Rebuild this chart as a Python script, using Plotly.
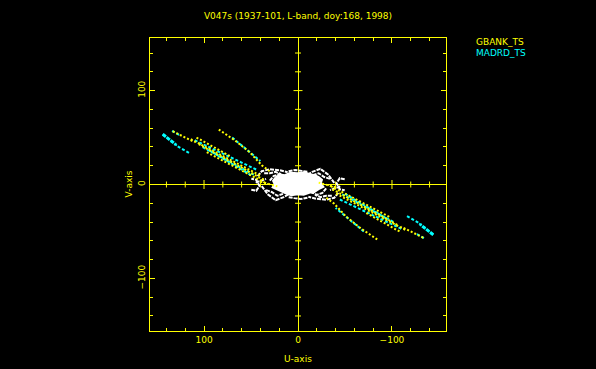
import plotly.graph_objects as go

TITLE = "V047s (1937-101, L-band, doy:168, 1998)"
STATIONS = ["GBANK_TS", "MADRD_TS"]
MAJOR_TICKS = [-100, 0, 100]
MINOR_TICKS = [-140, -120, -80, -60, -40, -20, 20, 40, 60, 80, 120, 140]

# (u, v) tracks (u>0 half; conjugate points are plotted too)
gbank_u = [
    [133.3, 122.0, 110.0],
    [84.3, 67.3, 51.4, 38.6, 30.1],
    [114.1, 76.0, 38.6],
    [105.6, 70.0, 35.5],
    [97.1, 64.0, 32.2],
    [108.0, 90.0, 72.0],
    [40.0, 30.0, 22.0],
]
gbank_v = [
    [56.7, 51.0, 45.0],
    [58.5, 47.1, 34.4, 20.5, 14.1],
    [48.2, 28.0, 8.8],
    [42.9, 23.5, 4.6],
    [34.4, 17.0, 0.3],
    [50.0, 40.0, 30.0],
    [3.0, 0.5, -2.0],
]
madrd_u = [
    [143.9, 136.0, 128.0],
    [128.0, 115.2],
    [134.0, 125.0],
    [70.0, 55.0, 40.0],
    [109.9, 76.0, 42.9],
    [101.4, 74.0, 46.1],
    [94.0, 70.0, 50.0],
]
madrd_v = [
    [53.5, 47.0, 40.7],
    [40.7, 33.3],
    [57.0, 52.0],
    [50.0, 37.0, 25.0],
    [47.1, 31.0, 15.2],
    [39.7, 25.0, 9.9],
    [36.0, 22.0, 10.0],
]
# dense start of the outer MADRD track
madrd_dense_u = [[143.9, 137.0, 130.0]]
madrd_dense_v = [[53.5, 48.0, 42.5]]
# other baselines (white)
core_u = [24.0, 19.0, 14.1, 8.0, 0.3, -7.0, -12.4, -18.0, -22.0, -25.5, -24.1, -27.0, -21.9,
          -16.0, -13.5, -6.0, 0.3, 7.0, 13.1, 18.0, 21.6, 27.0, 24.8, 26.5, 24.0]
core_v = [7.5, 10.5, 9.9, 12.5, 12.0, 13.0, 11.0, 10.0, 7.8, 5.0, 1.4, -2.5, -5.0,
          -9.0, -8.2, -11.0, -10.3, -11.5, -9.3, -7.0, -6.1, -3.0, 0.3, 4.0, 7.5]
arcs_u = [
    [42.9, 38.6, 30.1, 19.5, 11.0],
    [38.6, 32.2, 23.7, 15.2, 6.7],
    [-49.7, -44.4, -41.1, -44.4, -49.7],
    [30.0, 26.0, 20.0, 14.0],
    [36.0, 30.0, 24.0, 18.0],
    [34.0, 28.0, 22.0, 16.0],
    [45.0, 40.0, 34.0],
    [10.0, 3.0, -4.0, -10.0],
]
arcs_v = [
    [8.8, 14.1, 16.3, 15.2, 13.1],
    [-1.8, -10.4, -16.7, -13.5, -8.2],
    [5.6, 6.7, 1.4, -5.0, -6.1],
    [4.0, 9.0, 11.0, 8.0],
    [12.0, 12.0, 13.5, 11.0],
    [-6.0, -8.0, -12.0, -10.0],
    [2.0, 4.0, 6.0],
    [14.0, 15.5, 14.5, 13.5],
]

YEL = "#ffff00"
CYA = "#00ffff"
WHT = "#ffffff"


def with_conjugates(us, vs):
    xs, ys = [], []
    for u, v in zip(us, vs):
        xs += list(u) + [None] + [-a for a in u] + [None]
        ys += list(v) + [None] + [-a for a in v] + [None]
    return xs, ys


fig = go.Figure()

fig.add_trace(go.Scatter(x=core_u, y=core_v, mode="lines", fill="toself",
                         fillcolor=WHT, line=dict(color=WHT, width=2),
                         showlegend=False, hoverinfo="skip"))
ax, ay = with_conjugates(arcs_u, arcs_v)
fig.add_trace(go.Scatter(x=ax, y=ay, mode="lines",
                         line=dict(color=WHT, width=2, dash="4px,1px"),
                         showlegend=False, hoverinfo="skip"))

mx, my = with_conjugates(madrd_u, madrd_v)
fig.add_trace(go.Scatter(x=mx, y=my, mode="lines", name=STATIONS[1],
                         line=dict(color=CYA, width=2, dash="3px,2px"),
                         showlegend=False, hoverinfo="skip"))
dx, dy = with_conjugates(madrd_dense_u, madrd_dense_v)
fig.add_trace(go.Scatter(x=dx, y=dy, mode="lines",
                         line=dict(color=CYA, width=3, dash="4px,1px"),
                         showlegend=False, hoverinfo="skip"))
gx, gy = with_conjugates(gbank_u, gbank_v)
fig.add_trace(go.Scatter(x=gx, y=gy, mode="lines", name=STATIONS[0],
                         line=dict(color=YEL, width=2, dash="2px,2px"),
                         showlegend=False, hoverinfo="skip"))

shapes = []
for t, ln in [(t, 4.5) for t in MAJOR_TICKS] + [(t, 3) for t in MINOR_TICKS]:
    shapes.append(dict(type="line", xref="x", yref="y", ysizemode="pixel", yanchor=0,
                       x0=t, x1=t, y0=-ln, y1=ln, line=dict(color=YEL, width=1), layer="below"))
    shapes.append(dict(type="line", xref="x", yref="y", xsizemode="pixel", xanchor=0,
                       y0=t, y1=t, x0=-ln, x1=ln, line=dict(color=YEL, width=1), layer="below"))

font = dict(family="DejaVu Sans", size=9, color=YEL)
axis_common = dict(
    showgrid=False, showline=True, linecolor=YEL, linewidth=1,
    zeroline=True, zerolinecolor=YEL, zerolinewidth=1,
    ticks="inside", ticklen=5, tickcolor=YEL, tickwidth=1,
    tick0=0, dtick=100, mirror="allticks",
    minor=dict(ticks="inside", ticklen=3, tickcolor=YEL, dtick=20, tick0=0, showgrid=False),
    tickfont=font, fixedrange=True,
)

fig.update_layout(
    width=596, height=369,
    margin=dict(l=150, r=150, t=38, b=38),
    paper_bgcolor="black", plot_bgcolor="black",
    title=dict(text=TITLE, x=0.5, xanchor="center", y=1 - 16 / 369, yanchor="middle",
               font=dict(family="DejaVu Sans", size=9, color=YEL)),
    xaxis=dict(range=[157.5, -157.5], **axis_common),
    yaxis=dict(range=[-156, 156], tickangle=-90, **axis_common),
    shapes=shapes,
    showlegend=False,
    annotations=[
        dict(text=STATIONS[0], xref="paper", yref="paper", x=(474 - 150) / 296, y=(331 - 42) / 293,
             xanchor="left", yanchor="middle", showarrow=False, font=dict(family="DejaVu Sans", size=9, color=YEL)),
        dict(text=STATIONS[1], xref="paper", yref="paper", x=(474 - 150) / 296, y=(331 - 53) / 293,
             xanchor="left", yanchor="middle", showarrow=False, font=dict(family="DejaVu Sans", size=9, color=CYA)),
        dict(text="U-axis", xref="paper", yref="paper", x=0.5, y=(331 - 359) / 293,
             xanchor="center", yanchor="middle", showarrow=False, font=font),
        dict(text="V-axis", xref="paper", yref="paper", x=(128 - 150) / 296, y=0.5, textangle=-90,
             xanchor="center", yanchor="middle", showarrow=False, font=font),
    ],
)

fig.write_html("out.html", config={"displayModeBar": False},
               post_script="document.body.style.margin='0px';document.body.style.background='black';")
